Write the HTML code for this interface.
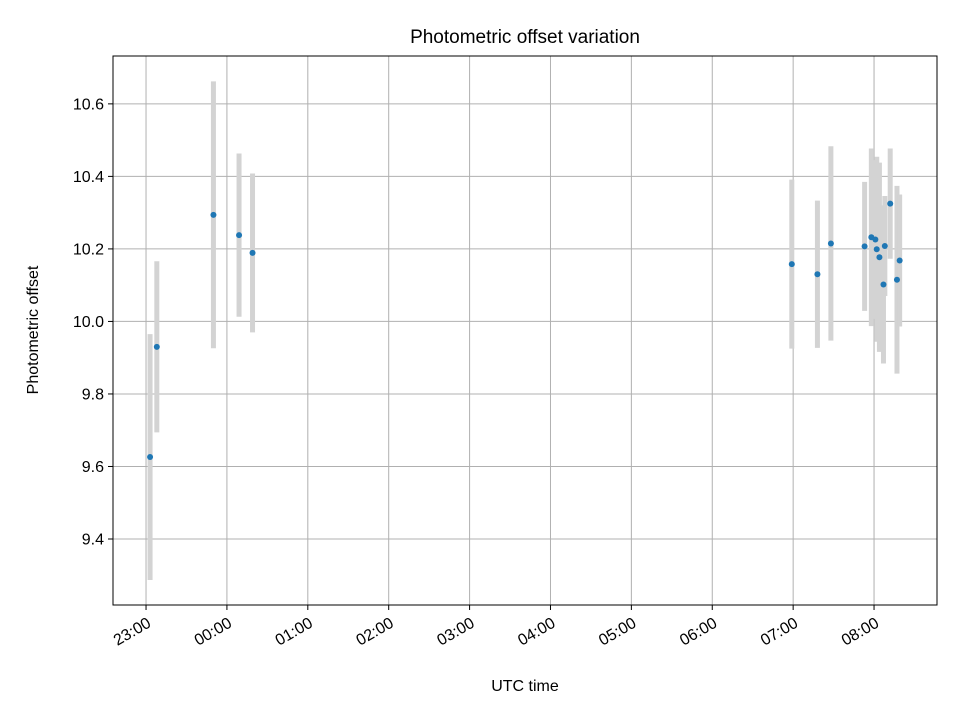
<!DOCTYPE html>
<html><head><meta charset="utf-8"><style>body{margin:0;background:#fff}svg{display:block;font-family:"Liberation Sans","DejaVu Sans",sans-serif}</style></head>
<body>
<svg id="chart" width="960" height="720" xmlns="http://www.w3.org/2000/svg"></svg>
<script>
// minutes after 23:00
const times = [3,8,50,69,79,479,498,508,533,538,541,542,544,547,548,552,557,559];
const values = [9.626,9.93,10.294,10.238,10.189,10.158,10.130,10.215,10.207,10.232,10.226,10.199,10.177,10.102,10.208,10.325,10.115,10.168];
const errors = [0.339,0.236,0.368,0.225,0.219,0.233,0.203,0.268,0.178,0.245,0.219,0.255,0.261,0.218,0.138,0.152,0.259,0.182];
const xTickLabels = ["23:00","00:00","01:00","02:00","03:00","04:00","05:00","06:00","07:00","08:00"];
const yTicks = [9.4,9.6,9.8,10.0,10.2,10.4,10.6];

const L=113,R=937,T=56,B=605;
const xMin=-24.5,xMax=586.7,yMin=9.218,yMax=10.732;
const X=m=>L+(m-xMin)/(xMax-xMin)*(R-L);
const Y=v=>B-(v-yMin)/(yMax-yMin)*(B-T);
const svg=document.getElementById('chart');
const NS='http://www.w3.org/2000/svg';
function mk(tag,attrs,parent){const e=document.createElementNS(NS,tag);for(const k in attrs)e.setAttribute(k,attrs[k]);(parent||svg).appendChild(e);return e;}

const grid=mk('g',{});


xTickLabels.forEach((lab,i)=>{
  const x=X(i*60);
  mk('line',{x1:x,x2:x,y1:T,y2:B,stroke:'#b0b0b0','stroke-width':1},grid);
  mk('line',{x1:x,x2:x,y1:B,y2:B+5,stroke:'#000'},grid);
  const ax=x+6, ay=B+21;
  const t=mk('text',{x:ax,y:ay,'font-size':16,'text-anchor':'end',transform:`rotate(-30 ${ax} ${ay})`},grid);
  
  
  t.textContent=lab;
});
yTicks.forEach(v=>{
  const y=Y(v);
  mk('line',{x1:L,x2:R,y1:y,y2:y,stroke:'#b0b0b0','stroke-width':1},grid);
  mk('line',{x1:L-5,x2:L,y1:y,y2:y,stroke:'#000'},grid);
  const t=mk('text',{x:L-9,y:y+5.5,'font-size':16,'text-anchor':'end'},grid);
  
  
  t.textContent=v.toFixed(1);
});
const bars=mk('g',{});


times.forEach((m,i)=>{
  const l=mk('line',{x1:X(m),x2:X(m),y1:Y(values[i]-errors[i]),y2:Y(values[i]+errors[i]),stroke:'#d3d3d3','stroke-width':5},bars);
  
  
});
const pts=mk('g',{});


times.forEach((m,i)=>{
  const c=mk('circle',{cx:X(m),cy:Y(values[i]),r:3,fill:'#1f77b4'},pts);
  
  
});
const frame=mk('rect',{x:L,y:T,width:R-L,height:B-T,fill:'none',stroke:'#000','stroke-width':1});


const title=mk('text',{x:(L+R)/2,y:43,'font-size':19,'text-anchor':'middle'});


title.textContent='Photometric offset variation';
const xt=mk('text',{x:(L+R)/2,y:691,'font-size':16,'text-anchor':'middle'});


xt.textContent='UTC time';
const yt=mk('text',{x:38,y:330,'font-size':16,'text-anchor':'middle',transform:'rotate(-90 38 330)'});


yt.textContent='Photometric offset';
</script>
</body></html>
